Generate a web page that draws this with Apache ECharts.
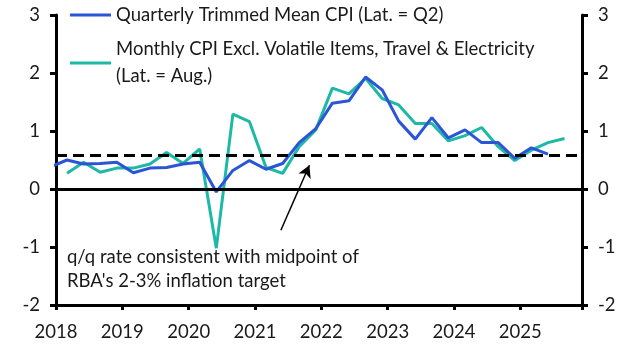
<!DOCTYPE html>
<html>
<head>
<meta charset="utf-8">
<script src="https://cdn.jsdelivr.net/npm/echarts@6/dist/echarts.min.js"></script>
<style>
  html, body { margin: 0; padding: 0; background: #fff; }
  #chart { width: 627px; height: 352px; }
</style>
</head>
<body>
<div id="chart"></div>
<script>
// quarter-end months, first point sits just before the axis start
const quarters = [
  '2017-12',
  '2018-03', '2018-06', '2018-09', '2018-12',
  '2019-03', '2019-06', '2019-09', '2019-12',
  '2020-03', '2020-06', '2020-09', '2020-12',
  '2021-03', '2021-06', '2021-09', '2021-12',
  '2022-03', '2022-06', '2022-09', '2022-12',
  '2023-03', '2023-06', '2023-09', '2023-12',
  '2024-03', '2024-06', '2024-09', '2024-12',
  '2025-03', '2025-06', '2025-09'
]
const trimmedMean = [
  0.38,
  0.50, 0.43, 0.44, 0.46,
  0.28, 0.36, 0.37, 0.43,
  0.46, -0.05, 0.32, 0.49,
  0.34, 0.44, 0.80, 1.04,
  1.48, 1.52, 1.93, 1.71,
  1.17, 0.86, 1.23, 0.88,
  1.02, 0.80, 0.80, 0.53,
  0.71, 0.60, null
]
const monthlyExVol = [
  null,
  0.27, 0.46, 0.29, 0.36,
  0.36, 0.43, 0.63, 0.44,
  0.69, -1.02, 1.29, 1.16,
  0.37, 0.27, 0.73, 1.02,
  1.74, 1.64, 1.91, 1.56,
  1.45, 1.13, 1.13, 0.83,
  0.92, 1.06, 0.73, 0.49,
  0.67, 0.80, 0.87
]
const yTicks = { min: -2, max: 3, step: 1 }
const xRange = { min: 2018, max: 2025.93 }
const targetLine = 0.59
const arrowFrom = [2021.39, -0.71]
const arrowTo = [2021.82, 0.41]

const names = [
  'Quarterly Trimmed Mean CPI (Lat. = Q2)',
  'Monthly CPI Excl. Volatile Items, Travel & Electricity\n(Lat. = Aug.)'
]
const note = 'q/q rate consistent with midpoint of\nRBA\'s 2-3% inflation target'

const FONT = 'Lato'
const FS = 18.5
const BLUE = '#2a55d6'
const TEAL = '#1db8a6'

function toYear(q) {
  const [y, m] = q.split('-').map(Number)
  return y + (m - 1) / 12
}

function pairs(values) {
  return quarters.map((q, i) => [toYear(q), values[i]])
}

function yAxis(position) {
  return {
    type: 'value',
    position,
    min: yTicks.min,
    max: yTicks.max,
    interval: yTicks.step,
    splitLine: { show: false },
    axisLine: { show: true, lineStyle: { color: '#000', width: 3 } },
    axisTick: { show: true, length: 6, lineStyle: { color: '#000', width: 3 } },
    axisLabel: { color: '#1a1a1a', fontFamily: FONT, fontSize: FS, margin: 16 }
  }
}

const legendBase = {
  left: 70,
  padding: 0,
  icon: 'rect',
  itemWidth: 41,
  itemHeight: 3,
  itemGap: 5,
  selectedMode: false
}

const chart = echarts.init(document.getElementById('chart'))

chart.setOption({
  animation: false,
  backgroundColor: '#fff',
  grid: { left: 56, right: 45, top: 15, bottom: 47 },
  legend: [
    {
      ...legendBase,
      data: [names[0]],
      top: 1.5,
      textStyle: { color: '#1a1a1a', fontFamily: FONT, fontSize: FS, lineHeight: 27 }
    },
    {
      ...legendBase,
      data: [names[1]],
      top: 22.5,
      textStyle: {
        color: '#1a1a1a', fontFamily: FONT, fontSize: FS, lineHeight: 27,
        padding: [27, 0, 0, 0]
      }
    }
  ],
  xAxis: {
    type: 'value',
    min: xRange.min,
    max: xRange.max,
    interval: 1,
    splitLine: { show: false },
    axisLine: { onZero: false, lineStyle: { color: '#000', width: 3 } },
    axisTick: { show: true, length: 5, lineStyle: { color: '#000', width: 3 } },
    axisLabel: {
      color: '#1a1a1a',
      fontFamily: FONT,
      fontSize: FS,
      margin: 18,
      formatter: (v) => (Number.isInteger(v) ? String(v) : '')
    }
  },
  yAxis: [yAxis('left'), yAxis('right')],
  graphic: [
    {
      type: 'text',
      left: 67,
      top: 245,
      style: {
        text: note,
        fill: '#1a1a1a',
        font: `${FS}px ${FONT}`,
        lineHeight: 24
      }
    }
  ],
  series: [
    {
      name: names[0],
      type: 'line',
      data: pairs(trimmedMean),
      showSymbol: false,
      symbol: 'none',
      clip: true,
      lineStyle: { color: BLUE, width: 3 },
      itemStyle: { color: BLUE },
      z: 3,
      markLine: {
        silent: true,
        symbol: 'none',
        label: { show: false },
        animation: false,
        data: [
          { yAxis: 0, lineStyle: { color: '#000', width: 3, type: 'solid' } },
          { yAxis: targetLine, lineStyle: { color: '#000', width: 3, type: [11, 6] } },
          [
            { coord: arrowFrom, symbol: 'none' },
            { coord: arrowTo, symbol: 'arrow', symbolSize: [10, 12] }
          ]
        ],
        lineStyle: { color: '#000', width: 1.5, type: 'solid' }
      }
    },
    {
      name: names[1],
      type: 'line',
      data: pairs(monthlyExVol),
      showSymbol: false,
      symbol: 'none',
      clip: true,
      lineStyle: { color: TEAL, width: 3 },
      itemStyle: { color: TEAL },
      z: 2
    }
  ]
})
</script>
</body>
</html>
